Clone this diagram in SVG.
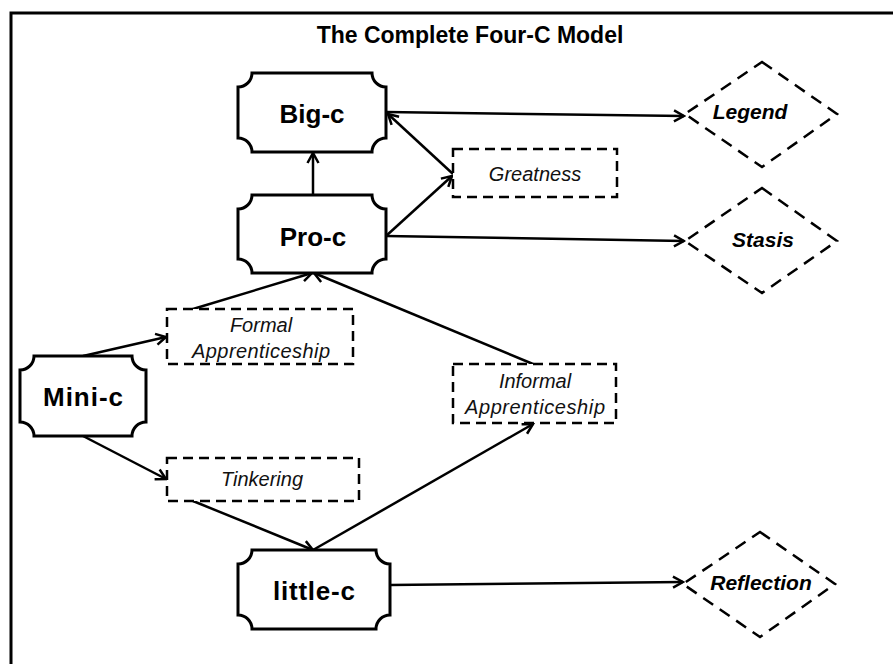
<svg xmlns="http://www.w3.org/2000/svg" width="893" height="664" viewBox="0 0 893 664">
  <style>
    .frame { fill: none; stroke: #000; stroke-width: 3; }
    .title { font-family: "Liberation Sans", Arial, sans-serif; font-weight: bold; font-size: 23px; fill: #000; text-anchor: middle; }
    .plaque { fill: #fff; stroke: #000; stroke-width: 3; }
    .plaque-label { font-family: "Liberation Sans", Arial, sans-serif; font-weight: bold; font-size: 26px; fill: #000; text-anchor: middle; }
    .step { fill: #fff; stroke: #000; stroke-width: 2.5; stroke-dasharray: 10 6; }
    .step-label { font-family: "Liberation Sans", Arial, sans-serif; font-style: italic; font-size: 20px; fill: #111; text-anchor: middle; }
    .outcome { fill: #fff; stroke: #000; stroke-width: 2.5; stroke-dasharray: 12 8; }
    .outcome-label { font-family: "Liberation Sans", Arial, sans-serif; font-weight: bold; font-style: italic; font-size: 21px; fill: #000; text-anchor: middle; }
    .link { fill: none; stroke: #000; stroke-width: 2.5; marker-end: url(#arrow); }
  </style>
  <defs>
    <marker id="arrow" markerUnits="userSpaceOnUse" markerWidth="14" markerHeight="14" viewBox="0 0 14 14" refX="12" refY="7" orient="auto">
      <path d="M2,1.5 L12,7 L2,12.5" fill="none" stroke="#000" stroke-width="2.5" stroke-linejoin="miter"/>
    </marker>
  </defs>

  <rect width="893" height="664" fill="#fff"/>
  <rect class="frame" x="11" y="13" width="900" height="700"/>
  <text class="title" x="470" y="43">The Complete Four-C Model</text>

  <g id="connectors">
    <path class="link" d="M386,112 L684,116"/>
    <path class="link" d="M453,174 L388,114"/>
    <path class="link" d="M386,236 L452,176"/>
    <path class="link" d="M313,195 L313,153"/>
    <path class="link" d="M386,236 L684,241"/>
    <path class="link" d="M83,356 L166,337"/>
    <path class="link" d="M193,309 L312,273"/>
    <path class="link" d="M533,364 L314,273"/>
    <path class="link" d="M83,436 L166,479"/>
    <path class="link" d="M193,501 L313,550"/>
    <path class="link" d="M313,550 L533,424"/>
    <path class="link" d="M390,585 L683,582"/>
  </g>

  <g id="big-c">
    <path class="plaque" d="M252,73 H372 A14 14 0 0 0 386,87 V138 A14 14 0 0 0 372,152 H252 A14 14 0 0 0 238,138 V87 A14 14 0 0 0 252,73 Z"/>
    <text class="plaque-label" x="312" y="123">Big-c</text>
  </g>

  <g id="pro-c">
    <path class="plaque" d="M252,195 H372 A14 14 0 0 0 386,209 V259 A14 14 0 0 0 372,273 H252 A14 14 0 0 0 238,259 V209 A14 14 0 0 0 252,195 Z"/>
    <text class="plaque-label" x="313" y="246">Pro-c</text>
  </g>

  <g id="mini-c">
    <path class="plaque" d="M34,356 H132 A14 14 0 0 0 146,370 V422 A14 14 0 0 0 132,436 H34 A14 14 0 0 0 20,422 V370 A14 14 0 0 0 34,356 Z"/>
    <text class="plaque-label" x="83" y="406" textLength="80">Mini-c</text>
  </g>

  <g id="little-c">
    <path class="plaque" d="M252,550 H376 A14 14 0 0 0 390,564 V615 A14 14 0 0 0 376,629 H252 A14 14 0 0 0 238,615 V564 A14 14 0 0 0 252,550 Z"/>
    <text class="plaque-label" x="314" y="600" textLength="82">little-c</text>
  </g>

  <g id="greatness">
    <rect class="step" x="453" y="149" width="164" height="48"/>
    <text class="step-label" x="535" y="181">Greatness</text>
  </g>

  <g id="formal-apprenticeship">
    <rect class="step" x="167" y="309" width="186" height="55"/>
    <text class="step-label" x="261" y="332">Formal</text>
    <text class="step-label" x="261" y="358" textLength="138">Apprenticeship</text>
  </g>

  <g id="tinkering">
    <rect class="step" x="167" y="458" width="192" height="43"/>
    <text class="step-label" x="262" y="486">Tinkering</text>
  </g>

  <g id="informal-apprenticeship">
    <rect class="step" x="453" y="364" width="163" height="59"/>
    <text class="step-label" x="535" y="388">Informal</text>
    <text class="step-label" x="535" y="414" textLength="140">Apprenticeship</text>
  </g>

  <g id="legend">
    <polygon class="outcome" points="762,62 837,114 762,167 685,114"/>
    <text class="outcome-label" x="750" y="119">Legend</text>
  </g>

  <g id="stasis">
    <polygon class="outcome" points="762,188 837,241 762,293 685,241"/>
    <text class="outcome-label" x="763" y="247">Stasis</text>
  </g>

  <g id="reflection">
    <polygon class="outcome" points="760,532 835,584 760,637 683,584"/>
    <text class="outcome-label" x="761" y="590">Reflection</text>
  </g>
</svg>
